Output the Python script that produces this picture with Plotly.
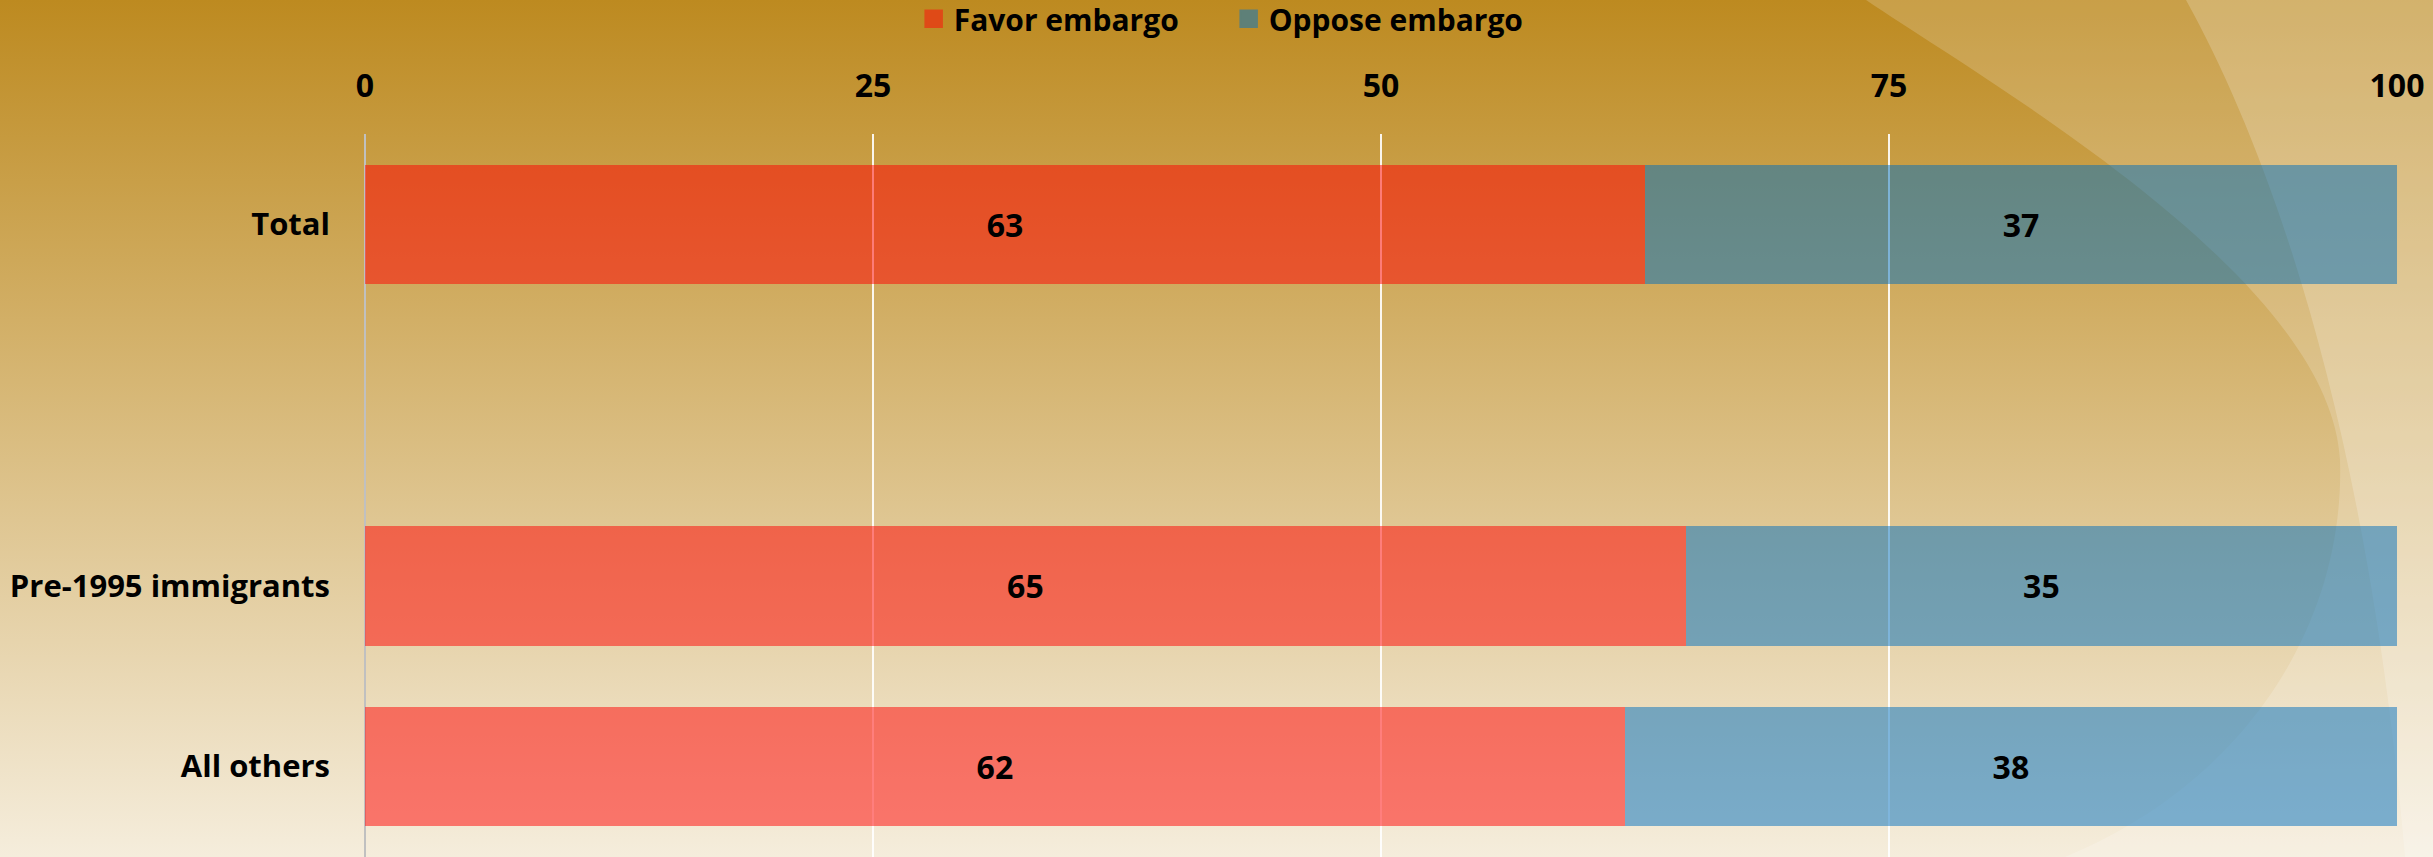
import base64
import plotly.graph_objects as go

# survey shares, percent
groups = ["Total", " ", "Pre-1995 immigrants", "All others"]
favor = [63, None, 65, 62]
oppose = [37, None, 35, 38]
series_names = ["Favor embargo", "Oppose embargo"]
x_ticks = [0, 25, 50, 75, 100]

W, H = 2433, 857
M_L, M_R, M_T, M_B = 365, 36, 134, 0

FAVOR_FILL = "rgba(255,0,0,0.5)"
OPPOSE_FILL = "rgba(0,110,190,0.5)"
FAVOR_KEY = "#DF4A17"
OPPOSE_KEY = "#5E8078"
FONT = "Open Sans"

# gold gradient slide background with the light swooshes on the right
bg_svg = f"""<svg xmlns="http://www.w3.org/2000/svg" width="{W}" height="{H}" viewBox="0 0 {W} {H}" preserveAspectRatio="none">
<defs><linearGradient id="g" x1="0" y1="0" x2="0" y2="1">
<stop offset="0" stop-color="#BD8A20"/><stop offset="1" stop-color="#F5EDDC"/></linearGradient></defs>
<rect width="{W}" height="{H}" fill="url(#g)"/>
<path d="M1866,0 C2000,90 2330,280 2340,460 C2345,620 2250,780 2065,857 L{W},857 L{W},0 Z" fill="white" fill-opacity="0.18"/>
<path d="M2186,0 C2280,170 2370,450 2405,857 L{W},857 L{W},0 Z" fill="white" fill-opacity="0.2"/>
</svg>"""
bg_src = "data:image/svg+xml;base64," + base64.b64encode(bg_svg.encode()).decode()

plot_w = W - M_L - M_R
plot_h = H - M_T - M_B

fig = go.Figure()

label_font = dict(family=FONT, size=32, color="black", weight="bold")

fig.add_trace(go.Bar(
    y=groups, x=favor, orientation="h", name=series_names[0],
    marker=dict(color=FAVOR_FILL, line=dict(width=0)),
    text=favor, textposition="inside", insidetextanchor="middle",
    textfont=label_font, showlegend=False,
))
fig.add_trace(go.Bar(
    y=groups, x=oppose, orientation="h", name=series_names[1],
    marker=dict(color=OPPOSE_FILL, line=dict(width=0)),
    text=oppose, textposition="inside", insidetextanchor="middle",
    textfont=label_font, showlegend=False,
))

# legend keys: bigger squares than plotly's fixed bar swatch
for name, col in zip(series_names, [FAVOR_KEY, OPPOSE_KEY]):
    fig.add_trace(go.Scatter(
        x=[None], y=[None], mode="markers", name=name,
        marker=dict(symbol="square", size=16, color=col, line=dict(width=2.5, color=col)),
    ))

fig.update_layout(
    width=W, height=H,
    barmode="stack", bargap=0.34,
    margin=dict(l=M_L, r=M_R, t=M_T, b=M_B, pad=0),
    paper_bgcolor="#D9BB7E",
    plot_bgcolor="rgba(0,0,0,0)",
    font=dict(family=FONT, size=32, color="black", weight="bold"),
    legend=dict(
        orientation="h", xref="container", yref="container", traceorder="normal",
        x=0.505, xanchor="center", y=0.978, yanchor="middle",
        font=dict(family=FONT, size=30, color="black", weight="bold"),
        itemsizing="trace", entrywidth=270, bgcolor="rgba(0,0,0,0)",
    ),
    images=[dict(
        source=bg_src, xref="paper", yref="paper",
        x=-M_L / plot_w, y=1 + M_T / plot_h,
        sizex=W / plot_w, sizey=H / plot_h,
        xanchor="left", yanchor="top", sizing="stretch", layer="below",
    )],
    xaxis=dict(
        range=[0, 100], side="top", tickvals=x_ticks,
        showgrid=True, gridcolor="rgba(255,255,255,0.9)", gridwidth=2,
        zeroline=True, zerolinecolor="#C0C0C0", zerolinewidth=2,
        showline=False, ticks="", ticklabelstandoff=30,
        tickfont=dict(family=FONT, size=32, color="black", weight="bold"),
        fixedrange=True,
    ),
    yaxis=dict(
        autorange="reversed", showgrid=False, zeroline=False, showline=False,
        ticks="", ticklabelstandoff=34,
        tickfont=dict(family=FONT, size=31, color="black", weight="bold"),
        fixedrange=True,
    ),
)

fig.write_html(
    "out.html",
    config={"displayModeBar": False},
    post_script="document.body.style.margin='0';document.body.style.overflow='hidden';",
)
